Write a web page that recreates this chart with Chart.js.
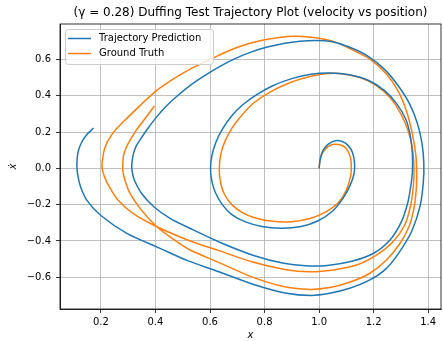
<!DOCTYPE html>
<html>
<head>
<meta charset="utf-8">
<script src="https://cdn.jsdelivr.net/npm/chart.js@4.4.1/dist/chart.umd.min.js"></script>
<style>
    html, body { margin: 0; padding: 0; background: #fff; }
</style>
</head>
<body>
<canvas id="phase-chart" width="443" height="341"></canvas>
<script>
// tick labels
const xTicks = [0.2, 0.4, 0.6, 0.8, 1.0, 1.2, 1.4];
const yTicks = [-0.6, -0.4, -0.2, 0.0, 0.2, 0.4, 0.6];

// Trajectory Prediction (blue)
const predX = [1.0, 1.004, 1.015, 1.035, 1.06, 1.085, 1.107, 1.123, 1.13,
    1.128, 1.115, 1.09, 1.05, 0.995, 0.93, 0.86, 0.79, 0.73, 0.68, 0.645, 0.62, 0.606, 0.602,
    0.607, 0.622, 0.645, 0.68, 0.72, 0.77, 0.83, 0.90, 0.97, 1.04, 1.11, 1.18, 1.24, 1.285, 1.318, 1.335, 1.342,
    1.342, 1.337, 1.326, 1.302, 1.26, 1.2, 1.12, 1.03, 0.95, 0.87, 0.76, 0.64, 0.53, 0.455, 0.395, 0.35, 0.324, 0.316, 0.313,
    0.315, 0.32, 0.33, 0.344, 0.37, 0.4, 0.44, 0.484, 0.53, 0.582, 0.635, 0.69, 0.75, 0.81, 0.87, 0.93, 0.99, 1.045, 1.11, 1.18, 1.24, 1.29, 1.33, 1.36, 1.377, 1.384,
    1.382, 1.37, 1.34, 1.295, 1.247, 1.186, 1.112, 1.039, 0.97, 0.88, 0.76, 0.63, 0.52, 0.417, 0.295, 0.2, 0.148, 0.125, 0.116, 0.112,
    0.113, 0.118, 0.13, 0.148, 0.173];
const predY = [0.0, 0.05, 0.10, 0.135, 0.152, 0.148, 0.125, 0.085, 0.03,
    -0.03, -0.09, -0.16, -0.235, -0.29, -0.322, -0.33, -0.32, -0.295, -0.255, -0.2, -0.135, -0.065, 0.0,
    0.07, 0.145, 0.215, 0.29, 0.35, 0.405, 0.455, 0.494, 0.518, 0.525, 0.515, 0.485, 0.428, 0.355, 0.27, 0.175, 0.08,
    -0.02, -0.09, -0.184, -0.294, -0.395, -0.468, -0.512, -0.535, -0.537, -0.523, -0.48, -0.41, -0.333, -0.277, -0.213, -0.14, -0.07, -0.03, 0.01,
    0.045, 0.085, 0.125, 0.158, 0.215, 0.275, 0.343, 0.404, 0.46, 0.512, 0.56, 0.603, 0.64, 0.668, 0.688, 0.70, 0.704, 0.698, 0.668, 0.617, 0.545, 0.455, 0.36, 0.25, 0.14, 0.03,
    -0.08, -0.21, -0.345, -0.46, -0.551, -0.615, -0.661, -0.688, -0.70, -0.688, -0.64, -0.568, -0.51, -0.441, -0.358, -0.26, -0.175, -0.1, -0.045, 0.005,
    0.055, 0.1, 0.145, 0.185, 0.222];

// Ground Truth (orange)
const truthX = [1.0, 1.004, 1.015, 1.033, 1.055, 1.08, 1.1, 1.113, 1.118,
    1.116, 1.1, 1.07, 1.025, 0.97, 0.90, 0.83, 0.77, 0.72, 0.68, 0.652, 0.638, 0.634,
    0.64, 0.655, 0.68, 0.715, 0.76, 0.82, 0.89, 0.96, 1.03, 1.09, 1.15, 1.21, 1.26, 1.3, 1.328, 1.343, 1.348,
    1.346, 1.336, 1.314, 1.271, 1.21, 1.137, 1.052, 0.966, 0.874, 0.753, 0.63, 0.527, 0.405, 0.319, 0.26, 0.23, 0.214, 0.206, 0.204,
    0.207, 0.213, 0.225, 0.255, 0.295, 0.345, 0.397, 0.445, 0.496, 0.55, 0.606, 0.655, 0.704, 0.75, 0.80, 0.855, 0.91, 0.96, 1.0, 1.06, 1.112, 1.186, 1.247, 1.289, 1.32, 1.342, 1.355, 1.358,
    1.357, 1.35, 1.332, 1.297, 1.247, 1.186, 1.112, 1.039, 0.966, 0.874, 0.753, 0.63, 0.527, 0.465, 0.405, 0.344, 0.304, 0.287, 0.281, 0.28,
    0.283, 0.293, 0.307, 0.33, 0.36, 0.396];
const truthY = [0.0, 0.05, 0.09, 0.12, 0.132, 0.128, 0.108, 0.07, 0.02,
    -0.04, -0.12, -0.19, -0.24, -0.275, -0.294, -0.292, -0.275, -0.245, -0.2, -0.14, -0.07, 0.0,
    0.08, 0.15, 0.22, 0.29, 0.36, 0.42, 0.47, 0.503, 0.522, 0.52, 0.5, 0.456, 0.39, 0.3, 0.2, 0.1, 0.0,
    -0.092, -0.202, -0.312, -0.404, -0.478, -0.533, -0.56, -0.57, -0.557, -0.515, -0.452, -0.40, -0.322, -0.25, -0.17, -0.1, -0.05, -0.01, 0.02,
    0.06, 0.105, 0.15, 0.215, 0.275, 0.348, 0.42, 0.472, 0.52, 0.564, 0.604, 0.638, 0.668, 0.69, 0.708, 0.721, 0.727, 0.724, 0.716, 0.695, 0.66, 0.602, 0.52, 0.428, 0.317, 0.19, 0.07, -0.03,
    -0.1, -0.202, -0.312, -0.413, -0.505, -0.578, -0.628, -0.657, -0.667, -0.653, -0.598, -0.517, -0.45, -0.39, -0.322, -0.222, -0.13, -0.06, -0.02, 0.01,
    0.07, 0.115, 0.155, 0.21, 0.27, 0.343];

const seriesNames = ["Trajectory Prediction", "Ground Truth"];
const seriesColors = ["#1f77b4", "#ff7f0e"];

function toPoints(xs, ys) {
    return xs.map((x, i) => ({ x: x, y: ys[i] }));
}

function formatTick(value) {
    return value.toFixed(1).replace("-", "\u2212");
}

// top/right spines, matplotlib style
const framePlugin = {
    id: "frame",
    afterDatasetsDraw(chart) {
        const { ctx, chartArea } = chart;
        ctx.save();
        ctx.strokeStyle = "#000";
        ctx.lineWidth = 0.8;
        ctx.strokeRect(chartArea.left, chartArea.top, chartArea.right - chartArea.left, chartArea.bottom - chartArea.top);
        ctx.restore();
    }
};

// legend box in the upper left corner of the axes
const legendPlugin = {
    id: "boxLegend",
    afterDraw(chart) {
        const { ctx, chartArea } = chart;
        const x = chartArea.left + 5;
        const y = chartArea.top + 5;
        const w = 148;
        const h = 35;
        ctx.save();
        ctx.beginPath();
        ctx.roundRect(x + 0.5, y + 0.5, w, h, 3);
        ctx.fillStyle = "rgba(255, 255, 255, 0.8)";
        ctx.fill();
        ctx.strokeStyle = "#cccccc";
        ctx.lineWidth = 1;
        ctx.stroke();

        ctx.font = "10px 'DejaVu Sans'";
        ctx.textBaseline = "middle";
        ctx.fillStyle = "#000";
        seriesNames.forEach((name, i) => {
            const rowY = y + 9.5 + i * 15;
            ctx.beginPath();
            ctx.moveTo(x + 3, rowY);
            ctx.lineTo(x + 26, rowY);
            ctx.strokeStyle = seriesColors[i];
            ctx.lineWidth = 1.5;
            ctx.stroke();
            ctx.fillText(name, x + 34, rowY);
        });
        ctx.restore();
    }
};

function initPhaseChart() {
    const ctx = document.getElementById("phase-chart").getContext("2d");

    const phaseData = {
        datasets: [
            {
                label: seriesNames[0],
                data: toPoints(predX, predY),
                borderColor: seriesColors[0],
                backgroundColor: seriesColors[0],
                borderWidth: 1.5,
                showLine: true,
                pointRadius: 0,
                tension: 0.25
            },
            {
                label: seriesNames[1],
                data: toPoints(truthX, truthY),
                borderColor: seriesColors[1],
                backgroundColor: seriesColors[1],
                borderWidth: 1.5,
                showLine: true,
                pointRadius: 0,
                tension: 0.25
            }
        ]
    };

    const tickFont = { family: "'DejaVu Sans'", size: 10 };

    const phaseOptions = {
        responsive: false,
        animation: false,
        layout: { padding: { left: 0, right: 2, top: 0, bottom: 0 } },
        plugins: {
            legend: { display: false },
            tooltip: { enabled: false },
            title: {
                display: true,
                fullSize: false,
                text: "(\u03b3 = 0.28) Duffing Test Trajectory Plot (velocity vs position)",
                color: "#000",
                font: { family: "'DejaVu Sans'", size: 12, weight: "normal" },
                padding: { top: 6, bottom: 3.6 }
            }
        },
        scales: {
            x: {
                type: "linear",
                min: 0.05,
                max: 1.447,
                afterBuildTicks: scale => { scale.ticks = xTicks.map(v => ({ value: v })); },
                afterFit: scale => { scale.height = 32; scale.paddingLeft = 0; scale.paddingRight = 0; },
                grid: { color: "#b0b0b0", lineWidth: 0.8, tickColor: "#000", tickLength: 4 },
                border: { color: "#000", width: 0.8 },
                ticks: { color: "#000", font: tickFont, padding: 3, maxRotation: 0, callback: v => formatTick(v) },
                title: {
                    display: true,
                    text: "x",
                    color: "#000",
                    font: { family: "'DejaVu Sans'", size: 10, style: "italic" },
                    padding: { top: 0, bottom: 0 }
                }
            },
            y: {
                type: "linear",
                min: -0.775,
                max: 0.795,
                afterBuildTicks: scale => { scale.ticks = yTicks.map(v => ({ value: v })); },
                afterFit: scale => { scale.width = 60; scale.paddingTop = 0; scale.paddingBottom = 0; },
                grid: { color: "#b0b0b0", lineWidth: 0.8, tickColor: "#000", tickLength: 4 },
                border: { color: "#000", width: 0.8 },
                ticks: { color: "#000", font: tickFont, padding: 5, callback: v => formatTick(v) },
                title: {
                    display: true,
                    text: "\u1e8b",
                    color: "#000",
                    font: { family: "'DejaVu Sans'", size: 10, style: "italic" },
                    padding: { top: 7, bottom: 0 }
                }
            }
        }
    };

    new Chart(ctx, {
        type: "scatter",
        data: phaseData,
        options: phaseOptions,
        plugins: [framePlugin, legendPlugin]
    });
}

document.addEventListener("DOMContentLoaded", () => {
    initPhaseChart();
});
</script>
</body>
</html>
